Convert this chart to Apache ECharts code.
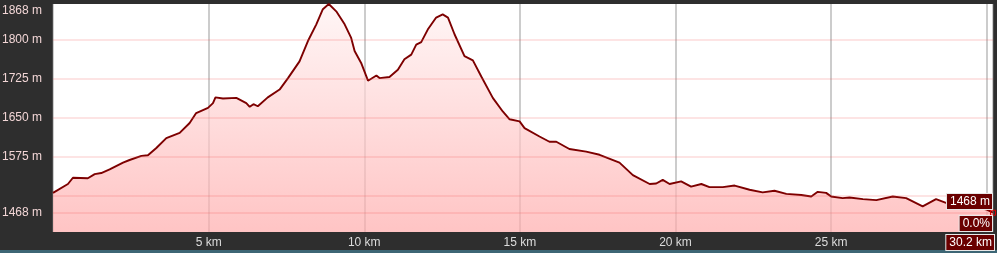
<!DOCTYPE html>
<html>
<head>
<meta charset="utf-8">
<script src="https://cdn.jsdelivr.net/npm/echarts@6/dist/echarts.min.js"></script>
<style>
html,body{margin:0;padding:0;background:#2e2e2e;}
#c{width:997px;height:253px;}
</style>
</head>
<body>
<div id="c"></div>
<script>
// distance along the track (km)
const distKm = [0, 0.48, 0.64, 1.12, 1.34, 1.55, 1.82, 2.25, 2.46, 2.84, 3.05, 3.32, 3.64, 4.07, 4.39, 4.60, 4.98, 5.14, 5.22, 5.46, 5.89, 6.21, 6.32, 6.44, 6.58, 6.90, 7.28, 7.55, 7.92, 8.19, 8.46, 8.67, 8.86, 9.10, 9.37, 9.58, 9.69, 9.90, 10.12, 10.39, 10.49, 10.81, 11.08, 11.29, 11.51, 11.67, 11.83, 12.04, 12.31, 12.52, 12.69, 12.90, 13.22, 13.49, 13.76, 14.13, 14.45, 14.67, 14.99, 15.15, 15.63, 15.95, 16.17, 16.59, 17.13, 17.56, 18.20, 18.63, 19.17, 19.38, 19.59, 19.81, 20.18, 20.50, 20.83, 21.09, 21.52, 21.90, 22.38, 22.80, 23.18, 23.56, 24.04, 24.36, 24.57, 24.84, 25.00, 25.37, 25.59, 26.02, 26.45, 26.98, 27.41, 27.94, 28.37, 28.69, 29.2, 29.7, 30.0, 30.2];
// elevation (m)
const elevM = [1506, 1523, 1535, 1534, 1542, 1544, 1551, 1564, 1569, 1577, 1578, 1592, 1611, 1621, 1640, 1659, 1669, 1678, 1689, 1687, 1688, 1678, 1671, 1676, 1672, 1689, 1704, 1726, 1758, 1797, 1829, 1858, 1868, 1854, 1829, 1803, 1778, 1755, 1721, 1731, 1726, 1728, 1742, 1762, 1771, 1790, 1795, 1819, 1842, 1848, 1842, 1810, 1768, 1760, 1729, 1688, 1662, 1647, 1643, 1630, 1614, 1604, 1604, 1590, 1585, 1579, 1564, 1540, 1523, 1524, 1531, 1523, 1528, 1518, 1523, 1517, 1517, 1520, 1512, 1507, 1510, 1504, 1502, 1499, 1508, 1506, 1499, 1496, 1497, 1494, 1492, 1499, 1496, 1480, 1494, 1487, 1482, 1478, 1474, 1468];
// y gridlines and labels
const yGridValues = [1468, 1500, 1575, 1650, 1725, 1800];
const yLabelValues = [1468, 1575, 1650, 1725, 1800, 1868];
const yMin = 1431, yMax = 1868;
const xMax = 30.2, xInterval = 5;
const xLabelValues = [5, 10, 15, 20, 25];
// cursor readout
const cursorDist = 30.2, cursorElev = 1468, cursorGrade = '0.0%';

const FONT = 'Liberation Sans';
const chart = echarts.init(document.getElementById('c'), null, {renderer: 'canvas'});

const allY = Array.from(new Set(yGridValues.concat(yLabelValues))).sort((a,b)=>a-b);
const markData = allY.map(v => {
  const hasLine = yGridValues.indexOf(v) >= 0;
  const hasLabel = yLabelValues.indexOf(v) >= 0;
  return {
    yAxis: v,
    lineStyle: {color: hasLine ? 'rgba(240,90,90,0.16)' : 'rgba(0,0,0,0)', width: 2, type: 'solid'},
    label: {
      show: hasLabel,
      position: 'start',
      distance: 11,
      formatter: v + ' m',
      color: '#f2d6d6',
      fontFamily: FONT,
      fontSize: 12,
      offset: v === yMax ? [0, 7] : [0, 0]
    }
  };
});

const boxStyle = (t) => ({text: t, fill: '#ffffff', font: '12px "' + FONT + '"', backgroundColor: '#6a0000', borderColor: '#e8e8e8', borderWidth: 1, padding: [2, 2, 1, 3]});

chart.setOption({
  backgroundColor: '#2e2e2e',
  animation: false,
  grid: {left: 53, right: 4, top: 4, bottom: 21, show: true, backgroundColor: '#ffffff', borderWidth: 0},
  xAxis: {
    type: 'value', min: 0, max: xMax, interval: xInterval, z: 3,
    axisLine: {show: false}, axisTick: {show: false},
    axisLabel: {
      color: '#dcdcdc', fontFamily: FONT, fontSize: 12, margin: 5,
      formatter: v => xLabelValues.indexOf(v) >= 0 ? v + ' km' : ''
    },
    splitLine: {show: true, lineStyle: {color: 'rgba(120,120,120,0.38)', width: 2}}
  },
  yAxis: {
    type: 'value', min: yMin, max: yMax,
    axisLine: {show: false}, axisTick: {show: false},
    axisLabel: {show: false}, splitLine: {show: false}
  },
  series: [{
    type: 'line',
    data: distKm.map((d, i) => [d, elevM[i]]),
    showSymbol: false,
    smooth: false,
    lineStyle: {color: '#7d0000', width: 1.9},
    areaStyle: {
      origin: 'start',
      color: new echarts.graphic.LinearGradient(0, 0, 0, 1, [
        {offset: 0, color: '#fff2f2'},
        {offset: 1, color: '#ffabab'}
      ])
    },
    markLine: {
      silent: true, symbol: 'none', animation: false,
      data: markData
    },
    markPoint: {
      silent: true,
      symbol: 'rect', symbolSize: 5,
      itemStyle: {color: 'rgba(0,0,0,0)', borderColor: '#e00000', borderWidth: 1},
      label: {show: false},
      data: [{coord: [cursorDist, cursorElev]}]
    }
  }],
  graphic: [
    {type: 'rect', left: 0, bottom: 0, shape: {width: 997, height: 3}, style: {fill: '#3d6675'}, silent: true},
    {type: 'text', right: 4, top: 193, style: boxStyle(cursorElev + ' m'), z: 100},
    {type: 'text', right: 4, top: 215, style: boxStyle(cursorGrade), z: 100},
    {type: 'text', right: 2, top: 234, style: boxStyle(cursorDist + ' km'), z: 100}
  ]
});
</script>
</body>
</html>
